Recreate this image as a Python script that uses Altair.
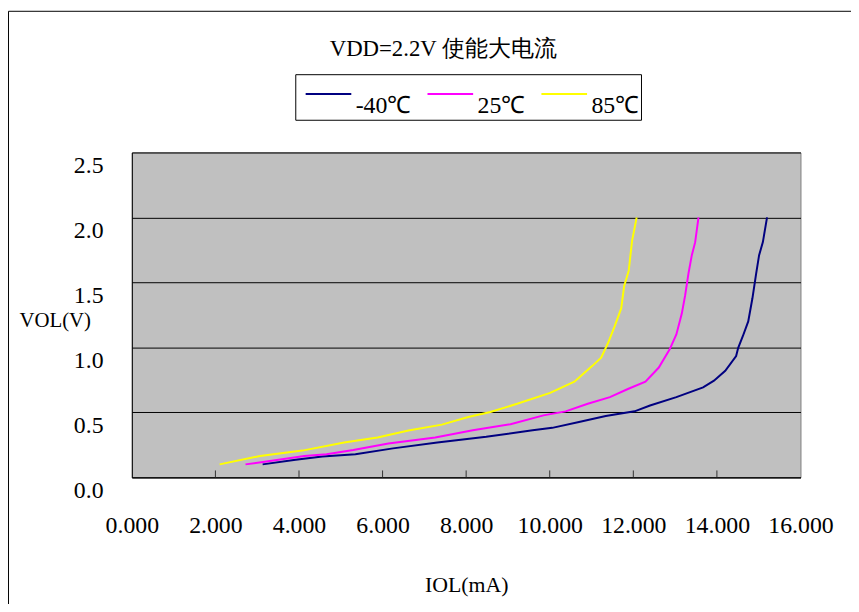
import altair as alt
import pandas as pd

# -40℃
iol_m40 = [3.13, 3.92, 4.56, 5.35, 6.25, 7.31, 8.48, 9.59, 10.06, 10.70, 11.34, 12.03, 12.40,
           13.03, 13.67, 13.93, 14.20, 14.46, 14.51, 14.62, 14.75, 14.85, 14.94, 15.01, 15.10, 15.20]
vol_m40 = [0.10, 0.135, 0.16, 0.178, 0.223, 0.269, 0.312, 0.363, 0.381, 0.426, 0.472, 0.508, 0.553,
           0.617, 0.693, 0.744, 0.82, 0.934, 0.997, 1.086, 1.20, 1.378, 1.57, 1.71, 1.81, 2.0]
# 25℃
iol_25 = [2.72, 3.18, 4.13, 4.66, 5.30, 6.14, 7.26, 8.16, 9.06, 9.85, 10.38, 10.91, 11.44, 11.87,
          12.29, 12.61, 12.87, 13.03, 13.16, 13.24, 13.32, 13.40, 13.48, 13.56]
vol_25 = [0.10, 0.12, 0.165, 0.178, 0.21, 0.26, 0.307, 0.363, 0.409, 0.477, 0.508, 0.566, 0.617, 0.68,
          0.736, 0.845, 0.985, 1.10, 1.26, 1.40, 1.57, 1.71, 1.81, 2.0]
# 85℃
iol_85 = [2.10, 3.07, 4.08, 5.08, 5.88, 6.62, 7.42, 8.05, 8.58, 9.22, 10.01, 10.59, 11.02, 11.23,
          11.39, 11.55, 11.71, 11.78, 11.89, 11.97, 12.08]
vol_85 = [0.10, 0.165, 0.206, 0.269, 0.307, 0.36, 0.406, 0.464, 0.503, 0.566, 0.65, 0.736, 0.858, 0.921,
          1.03, 1.16, 1.30, 1.47, 1.59, 1.82, 2.0]

series_names = ["-40℃", "25℃", "85℃"]
series_colors = ["#000080", "#FF00FF", "#FFFF00"]
x_ticks = [0, 2, 4, 6, 8, 10, 12, 14, 16]
y_ticks = [0.0, 0.5, 1.0, 1.5, 2.0, 2.5]
inner_ticks = [2, 4, 6, 8, 10, 12, 14]

rows = []
for name, xs, ys in zip(series_names, [iol_m40, iol_25, iol_85], [vol_m40, vol_25, vol_85]):
    for i, (xv, yv) in enumerate(zip(xs, ys)):
        rows.append({"series": name, "IOL": xv, "VOL": yv, "idx": i})
df = pd.DataFrame(rows)
tick_df = pd.DataFrame({"IOL": inner_ticks})

W, H = 675, 328
FONT = "Liberation Serif"

xscale = alt.Scale(domain=[0, 16], nice=False, zero=False)
yscale = alt.Scale(domain=[0, 2.5], nice=False)

xaxis = alt.Axis(values=x_ticks, format=".3f", title="IOL(mA)", grid=False, ticks=False, tickSize=0,
                 labelPadding=37, domainColor="black", titleY=115, titleBaseline="alphabetic",
                 titleFontWeight="normal", titleFontSize=22, labelFontSize=24, labelOverlap=False,
                 labelFlush=False, labelFont=FONT, titleFont=FONT, labelColor="black", titleColor="black")
yaxis = alt.Axis(values=y_ticks, format=".1f", title="VOL(V)", grid=True, gridColor="black",
                 ticks=False, tickSize=0, labelPadding=29, labelOffset=13, domainColor="black",
                 titleAngle=0, titleAlign="left", titleBaseline="middle", titleX=-114, titleY=170,
                 titleFontWeight="normal", titleFontSize=21, labelFontSize=24,
                 labelFont=FONT, titleFont=FONT, labelColor="black", titleColor="black")

lines = alt.Chart(df).mark_line(strokeWidth=2).encode(
    x=alt.X("IOL:Q", scale=xscale, axis=xaxis),
    y=alt.Y("VOL:Q", scale=yscale, axis=yaxis),
    color=alt.Color("series:N", scale=alt.Scale(domain=series_names, range=series_colors),
                    legend=alt.Legend(orient="none", legendX=165, legendY=-79, direction="horizontal",
                                      title=None, symbolType="M-0.56,0H2.15", symbolSize=1156,
                                      symbolStrokeWidth=2, labelFont=FONT, labelFontSize=24,
                                      labelBaseline="top", labelOffset=23, columnPadding=8,
                                      labelExpr="datum.label + '\u00a0'",
                                      padding=2, strokeColor="black", fillColor="white",
                                      labelColor="black")),
    order="idx:Q",
)

ticks = alt.Chart(tick_df).mark_rule(color="#333333", strokeWidth=1).encode(
    x=alt.X("IOL:Q", scale=xscale, axis=xaxis),
    y=alt.value(H),
    y2=alt.value(H - 7),
)

border = alt.Chart(pd.DataFrame({"a": [0]})).mark_rect(fillOpacity=0, stroke="black", strokeWidth=1).encode(
    x=alt.value(-124.5), x2=alt.value(W + 80), y=alt.value(-142.5), y2=alt.value(H + 160)
)

chart = alt.layer(border, ticks, lines).properties(
    width=W, height=H,
    background="white",
    title=alt.TitleParams("VDD=2.2V 使能大电流", font=FONT, fontSize=23, fontWeight="normal",
                          dx=-23, offset=-69, baseline="alphabetic", color="black"),
    autosize=alt.AutoSizeParams(type="none"),
    padding={"left": 125, "top": 143, "right": 51, "bottom": 125},
).configure_view(
    fill="#C0C0C0", stroke="#808080"
)

chart.save("out.html", embed_options={"renderer": "svg", "actions": False})
